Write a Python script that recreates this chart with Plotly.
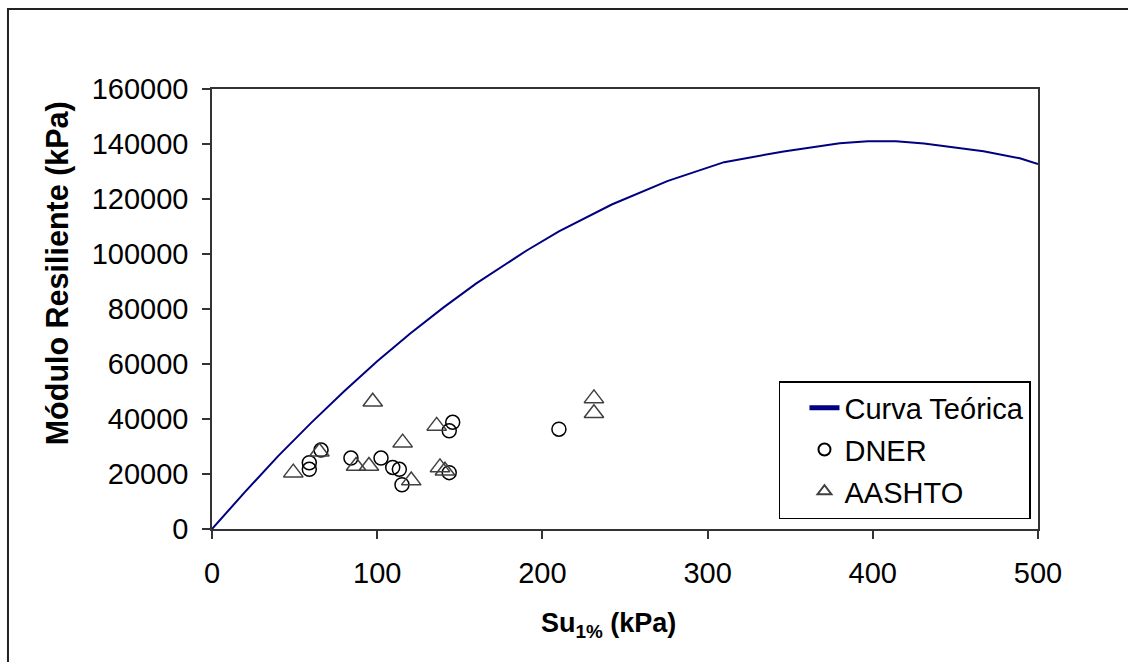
import plotly.graph_objects as go

# Theoretical curve
curve_su = [0, 20, 40, 60, 80, 100, 120, 140, 160, 190, 210, 242, 276, 310, 346, 380, 397, 414, 431, 467, 489, 500]
curve_mr = [0, 13500, 26500, 38600, 50100, 61000, 71100, 80500, 89300, 101100, 108200, 118000, 126600, 133400,
            137300, 140300, 141000, 141000, 140200, 137400, 134800, 132700]

# DNER points
dner_su = [66.0, 58.9, 58.9, 84.1, 102.3, 109.4, 113.4, 115.0, 145.7, 143.6, 143.6, 210.0]
dner_mr = [28700, 24100, 21700, 25800, 25800, 22400, 21700, 16100, 38800, 35700, 20500, 36300]

# AASHTO points
aashto_su = [97.3, 136.0, 115.4, 49.2, 65.0, 87.2, 95.0, 120.6, 138.0, 141.0, 231.2, 231.2]
aashto_mr = [46300, 37500, 31400, 20500, 28100, 22900, 22900, 17600, 22400, 21200, 47500, 42100]

x_ticks = [0, 100, 200, 300, 400, 500]
y_ticks = [0, 20000, 40000, 60000, 80000, 100000, 120000, 140000, 160000]

FONT = "Arial, Liberation Sans, sans-serif"

fig = go.Figure()
fig.add_trace(go.Scatter(x=curve_su, y=curve_mr, mode="lines", name="Curva Teórica",
                         legendgroup="a", line=dict(color="#000080", width=2)))
fig.add_trace(go.Scatter(x=dner_su, y=dner_mr, mode="markers", name="DNER", legendgroup="b",
                         marker=dict(symbol="circle-open", size=14, color="black",
                                     line=dict(width=1.5, color="black"))))
fig.add_trace(go.Scatter(x=aashto_su, y=aashto_mr, mode="markers", name="AASHTO", legendgroup="c",
                         marker=dict(symbol="triangle-up-open", size=17, color="#404040",
                                     line=dict(width=1.5, color="#404040"))))

axis_common = dict(showgrid=False, zeroline=False, showline=True, mirror=True,
                   linecolor="#333333", linewidth=1.5, ticks="outside", ticklen=8,
                   tickcolor="#333333", tickwidth=1.5,
                   tickfont=dict(family=FONT, size=29, color="black"))

fig.update_xaxes(range=[0, 500], tickvals=x_ticks, ticklabelstandoff=9, **axis_common)
fig.update_yaxes(range=[0, 160000], tickvals=y_ticks, ticktext=[str(v) for v in y_ticks],
                 ticklabelstandoff=8, **axis_common)

fig.add_annotation(text="<b>Su<sub>1%</sub> (kPa)</b>", xref="paper", yref="paper",
                   x=0.48, y=-0.218, showarrow=False, xanchor="center", yanchor="middle",
                   font=dict(family=FONT, size=27, color="black"))
fig.add_annotation(text="<b>Módulo Resiliente (kPa)</b>", xref="paper", yref="paper",
                   x=-0.186, y=0.582, showarrow=False, xanchor="center", yanchor="middle",
                   textangle=-90, font=dict(family=FONT, size=30.5, color="black"))

# outer chart frame
fig.add_shape(type="rect", xref="paper", yref="paper", x0=-0.247, y0=-0.32, x1=1.12, y1=1.1818,
              line=dict(color="#222222", width=2), layer="below")

fig.update_layout(
    width=1128, height=662,
    margin=dict(l=212, r=90, t=89, b=133),
    paper_bgcolor="white", plot_bgcolor="white",
    font=dict(family=FONT, size=29, color="black"),
    showlegend=True,
    legend=dict(x=0.9915, y=0.0227, xanchor="right", yanchor="bottom",
                bgcolor="white", bordercolor="black", borderwidth=1.5,
                font=dict(family=FONT, size=29, color="black"),
                itemsizing="constant", traceorder="grouped", tracegroupgap=1,
                indentation=24),
)

fig.write_html("out.html")
